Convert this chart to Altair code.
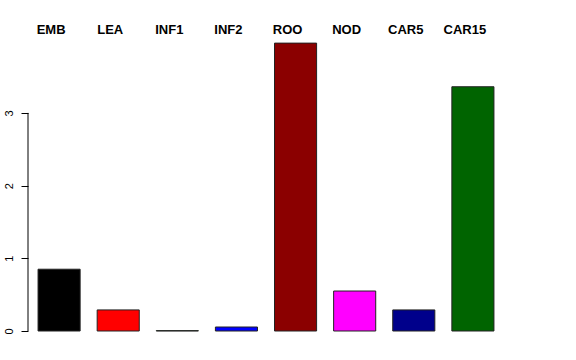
import altair as alt
import pandas as pd

categories = ["EMB", "LEA", "INF1", "INF2", "ROO", "NOD", "CAR5", "CAR15"]
values = [0.85, 0.29, 0.005, 0.055, 3.96, 0.55, 0.29, 3.36]
colors = ["#000000", "#FF0000", "#00CD00", "#0000FF", "#8B0000", "#FF00FF", "#00008B", "#006400"]
y_ticks = [0, 1, 2, 3]

df = pd.DataFrame({"cat": categories, "val": values})
axis_df = pd.DataFrame({"a": [y_ticks[0]], "b": [y_ticks[-1]]})

yscale = alt.Scale(domain=[0, 4.278], nice=False, zero=False)
xenc = alt.X("cat:N", sort=categories, axis=None,
             scale=alt.Scale(paddingInner=0.288, paddingOuter=0.17))

bars = alt.Chart(df).mark_bar(stroke="#222222", strokeWidth=1).encode(
    x=xenc,
    y=alt.Y("val:Q", scale=yscale, title=None,
            axis=alt.Axis(values=y_ticks, domain=False, grid=False, tickSize=7,
                          tickColor="#000000", tickWidth=1, labelAngle=270,
                          labelAlign="center", labelBaseline="bottom", labelPadding=7,
                          labelFont="Liberation Sans", labelFontSize=11,
                          labelColor="#000000", format="d")),
    color=alt.Color("cat:N", scale=alt.Scale(domain=categories, range=colors), legend=None),
)

labels = alt.Chart(df).mark_text(font="Liberation Sans", fontSize=13, fontWeight="bold",
                                 color="#000000", baseline="middle", dx=-8).encode(
    x=xenc,
    y=alt.value(10),
    text="cat:N",
)

axis_line = alt.Chart(axis_df).mark_rule(color="#000000", strokeWidth=1).encode(
    x=alt.value(0),
    y=alt.Y("a:Q", scale=yscale, title=None),
    y2="b:Q",
)

chart = alt.layer(bars, labels, axis_line).properties(
    width=476, height=311,
    autosize=alt.AutoSizeParams(type="none"),
    padding={"left": 28, "top": 20, "right": 72, "bottom": 29},
    background="white",
).configure_view(stroke=None)

chart.save("out.html", embed_options={"renderer": "svg", "actions": False})
